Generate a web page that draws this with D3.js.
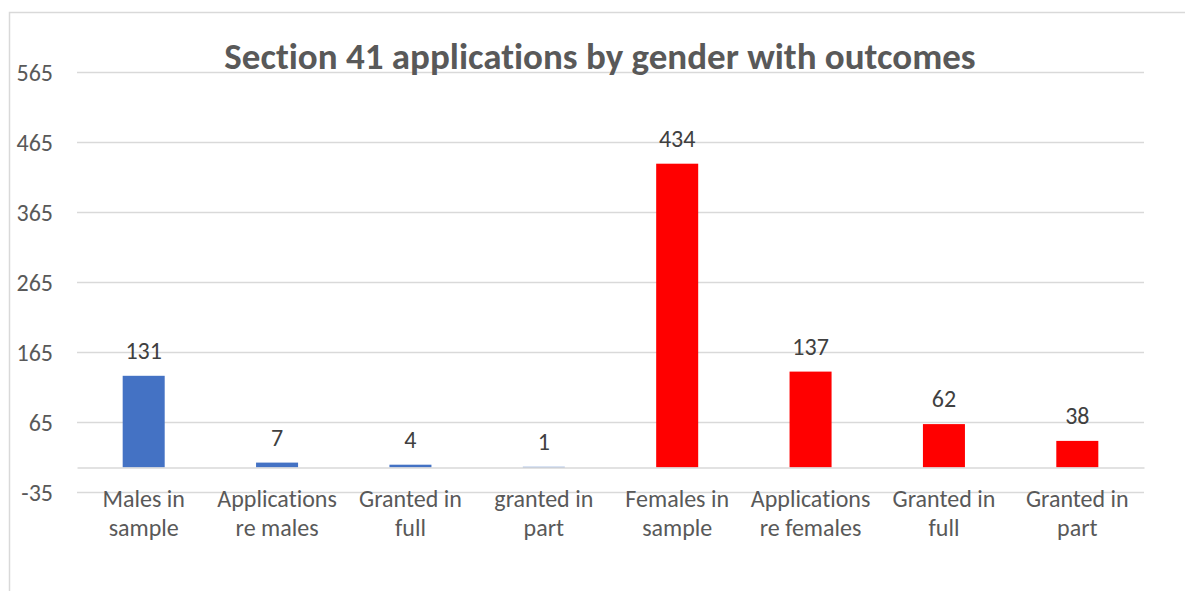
<!DOCTYPE html>
<html>
<head>
<meta charset="utf-8">
<script src="https://cdn.jsdelivr.net/npm/d3@7"></script>
<style>
  body { margin: 0; background: #fff; }
  text { font-family: Carlito, Calibri, Lato, sans-serif; font-variant-ligatures: none; }
</style>
</head>
<body>
<div id="chart"></div>
<script>
// data
var categories = ["Males in sample", "Applications re males", "Granted in full (m)", "granted in part",
                  "Females in sample", "Applications re females", "Granted in full (f)", "Granted in part"];
var labelLines = [["Males in", "sample"], ["Applications", "re males"], ["Granted in", "full"], ["granted in", "part"],
                  ["Females in", "sample"], ["Applications", "re females"], ["Granted in", "full"], ["Granted in", "part"]];
var values = [131, 7, 4, 1, 434, 137, 62, 38];
var groups = ["male", "male", "male", "male", "female", "female", "female", "female"];
var yTicks = [-35, 65, 165, 265, 365, 465, 565];

var width = 1185, height = 591;
var plot = {left: 77, right: 1144, top: 72, bottom: 492};

var svg = d3.select("#chart")
  .append("svg")
    .attr("width", width)
    .attr("height", height);

// chart area border (cropped in the picture)
svg.append("rect")
  .attr("x", 9.5).attr("y", 12.5)
  .attr("width", 1200).attr("height", 700)
  .attr("fill", "none")
  .attr("stroke", "#d9d9d9")
  .attr("stroke-width", 1.5);

var x = d3.scaleBand()
  .domain(categories)
  .range([plot.left, plot.right])
  .paddingInner(0.685)
  .paddingOuter(0.3425);

var y = d3.scaleLinear()
  .domain([-35, 565])
  .range([plot.bottom, plot.top]);

var color = d3.scaleOrdinal()
  .domain(["male", "female"])
  .range(["#4472c4", "#ff0000"]);

// gridlines + y labels
var yAxis = svg.append("g")
  .attr("class", "yAxis")
  .attr("transform", "translate(" + plot.left + ",0)")
  .call(d3.axisLeft(y)
    .tickValues(yTicks)
    .tickSize(-(plot.right - plot.left))
    .tickPadding(24)
    .tickFormat(function(d) { return String(d); })
  );
yAxis.select(".domain").remove();
yAxis.selectAll("line")
  .attr("stroke", "#d9d9d9")
  .attr("stroke-width", 1.5);
yAxis.selectAll("text")
  .attr("fill", "#595959")
  .attr("font-size", 24)
  .attr("dy", "0.34em");

// bars
svg.append("g")
  .selectAll("rect")
  .data(values)
  .enter()
  .append("rect")
    .attr("x", function(d, i) { return x(categories[i]); })
    .attr("y", function(d) { return y(d); })
    .attr("width", x.bandwidth())
    .attr("height", function(d) { return y(0) - y(d); })
    .attr("fill", function(d, i) { return color(groups[i]); });

// x axis at zero, drawn over the bar feet
var xAxis = svg.append("g")
  .attr("class", "xAxis")
  .attr("transform", "translate(0," + y(0) + ")")
  .call(d3.axisBottom(x).tickSize(0).tickFormat(""));
xAxis.select(".domain")
  .attr("stroke", "#d9d9d9")
  .attr("stroke-width", 1.5);

// wrapped category labels
svg.append("g")
  .selectAll("text")
  .data(categories)
  .enter()
  .append("text")
    .attr("text-anchor", "middle")
    .attr("fill", "#595959")
    .attr("font-size", 24)
    .attr("transform", function(d) { return "translate(" + (x(d) + x.bandwidth() / 2) + "," + (y(-35) + 15) + ")"; })
  .selectAll("tspan")
  .data(function(d, i) { return labelLines[i]; })
  .enter()
  .append("tspan")
    .attr("x", 0)
    .attr("y", function(d, i) { return i * 28.5; })
    .text(function(d) { return d; });

// value labels
svg.append("g")
  .selectAll("text")
  .data(values)
  .enter()
  .append("text")
    .attr("x", function(d, i) { return x(categories[i]) + x.bandwidth() / 2; })
    .attr("y", function(d) { return y(d) - 17; })
    .attr("text-anchor", "middle")
    .attr("fill", "#404040")
    .attr("font-size", 24)
    .text(function(d) { return d; });

// title
svg.append("text")
  .attr("x", 600)
  .attr("y", 69)
  .attr("text-anchor", "middle")
  .attr("fill", "#595959")
  .attr("font-size", 37)
  .attr("font-weight", "bold")
  .text("Section 41 applications by gender with outcomes");
</script>
</body>
</html>
